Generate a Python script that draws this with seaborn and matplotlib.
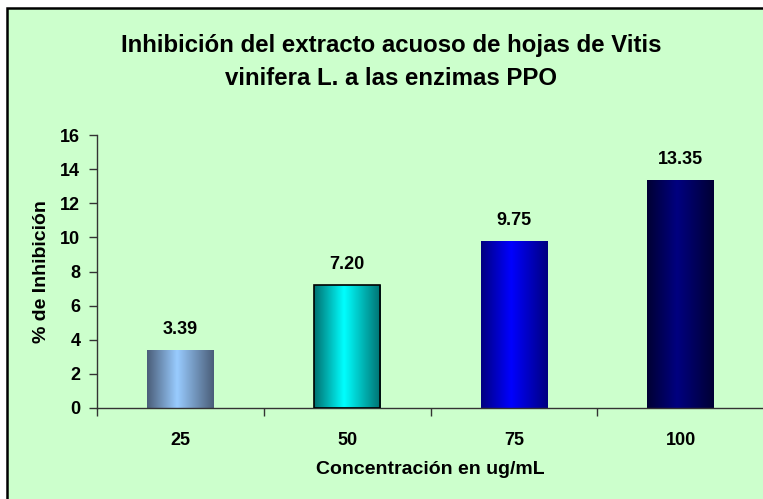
import numpy as np
import pandas as pd
import matplotlib
matplotlib.use("Agg")
import matplotlib.pyplot as plt
from matplotlib.colors import LinearSegmentedColormap
from matplotlib.patches import Rectangle
import seaborn as sns

categories = ["25", "50", "75", "100"]
values = [3.39, 7.20, 9.75, 13.35]
value_labels = ["3.39", "7.20", "9.75", "13.35"]
edge_colors = ["#4a5d78", "#007070", "#000080", "#000033"]
center_colors = ["#99ccff", "#00ffff", "#0000ff", "#000080"]

sns.set_theme(style="white")
plt.rcParams['font.family'] = ['Liberation Sans', 'DejaVu Sans']

W, H = 763, 499
fig = plt.figure(figsize=(W / 100, H / 100), dpi=100, facecolor="white")

# chart area background with border (cropped at right/bottom)
bg = Rectangle((7 / W, -0.05), 1.2, (H - 8) / H + 0.05, transform=fig.transFigure,
               facecolor="#ccffcc", edgecolor="black", linewidth=1.8, zorder=-10)
fig.patches.append(bg)

ax = fig.add_axes([97 / W, (H - 408) / H, (764 - 97) / W, (408 - 135) / H])
ax.set_facecolor("none")

df = pd.DataFrame({"cat": categories, "val": values})
sns.barplot(data=df, x="cat", y="val", ax=ax, width=0.4, color="white",
            saturation=1, edgecolor="none")

ax.set_xlim(-0.5, 3.5)
ax.set_ylim(0, 16)
ax.set_yticks(np.arange(0, 17, 2))

# gradient fill for each bar
for i, p in enumerate(ax.patches):
    x0, y0 = p.get_x(), p.get_y()
    w, h = p.get_width(), p.get_height()
    cmap = LinearSegmentedColormap.from_list(
        f"g{i}", [(0, edge_colors[i]), (0.45, center_colors[i]), (1, edge_colors[i])])
    grad = np.linspace(0, 1, 256).reshape(1, -1)
    ax.imshow(grad, cmap=cmap, extent=[x0, x0 + w, y0, y0 + h], aspect="auto",
              zorder=2, interpolation="bicubic")
    p.set_facecolor("none")
    if i == 1:
        p.set_edgecolor("black")
        p.set_linewidth(1.2)
    p.set_zorder(3)
    ax.annotate(value_labels[i], (x0 + w / 2, y0 + h), xytext=(0, 9),
                textcoords="offset points", ha="center", va="bottom",
                fontsize=13, fontweight="bold", color="black")

ax.set_xlim(-0.5, 3.5)
ax.set_ylim(0, 16)

# x ticks at category boundaries, labels at centers
ax.set_xticks(np.arange(4))
ax.set_xticklabels(categories)
ax.set_xticks(np.arange(-0.5, 4, 1), minor=True)
ax.tick_params(axis="x", which="major", length=0, pad=17, labelsize=13)
ax.tick_params(axis="x", which="minor", length=6, width=1, color="#333333", direction="out", bottom=True)
ax.tick_params(axis="y", which="major", length=6, width=1, color="#333333", pad=6,
               labelsize=13, left=True, direction="out")
for lbl in ax.get_xticklabels() + ax.get_yticklabels():
    lbl.set_fontweight("bold")
    lbl.set_color("black")

for s in ["top", "right"]:
    ax.spines[s].set_visible(False)
for s in ["left", "bottom"]:
    ax.spines[s].set_color("#333333")
    ax.spines[s].set_linewidth(1)

ax.set_xlabel("Concentración en ug/mL", fontsize=14, fontweight="bold", labelpad=9, color="black")
ax.set_ylabel("% de Inhibición", fontsize=14, fontweight="bold", labelpad=7, color="black")

fig.text(391 / W, 1 - 62 / H, "Inhibición del extracto acuoso de hojas de Vitis\nvinifera L. a las enzimas PPO",
         ha="center", va="center", fontsize=17.3, fontweight="bold", linespacing=1.55, color="black")

fig.savefig("out.png", dpi=100, facecolor="white")
